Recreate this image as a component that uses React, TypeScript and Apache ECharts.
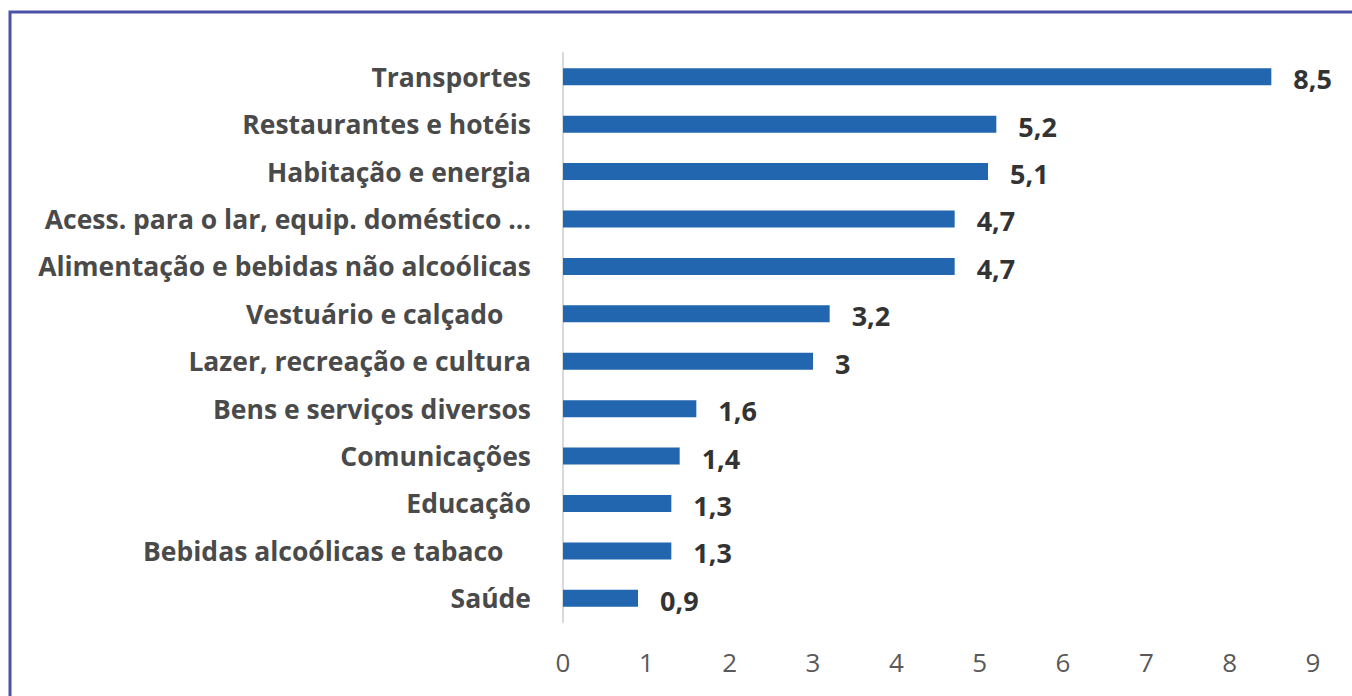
import React, { useEffect, useRef } from "react";
import * as echarts from "echarts";

const categories = [
  "Transportes",
  "Restaurantes e hotéis",
  "Habitação e energia",
  "Acess. para o lar, equip. doméstico ...",
  "Alimentação e bebidas não alcoólicas",
  "Vestuário e calçado    ",
  "Lazer, recreação e cultura",
  "Bens e serviços diversos",
  "Comunicações",
  "Educação",
  "Bebidas alcoólicas e tabaco    ",
  "Saúde",
];
const values = [8.5, 5.2, 5.1, 4.7, 4.7, 3.2, 3, 1.6, 1.4, 1.3, 1.3, 0.9];

const FONT = "'Open Sans', 'Noto Sans', sans-serif";

export default function App() {
  const ref = useRef<HTMLDivElement>(null);
  useEffect(() => {
    const chart = echarts.init(ref.current!, undefined, { renderer: "svg" });
    chart.setOption({
      animation: false,
      backgroundColor: "#ffffff",
      graphic: [
        {
          type: "rect",
          shape: { x: 10, y: 12, width: 1400, height: 760 },
          style: { fill: "none", stroke: "#4b52a8", lineWidth: 3 },
          silent: true,
        },
      ],
      grid: { left: 563, right: 39, top: 53, bottom: 74 },
      xAxis: {
        type: "value",
        min: 0,
        max: 9,
        interval: 1,
        axisLine: { show: false },
        axisTick: { show: false },
        splitLine: { show: false },
        axisLabel: {
          margin: 27,
          fontFamily: FONT,
          fontSize: 26,
          color: "#595959",
        },
      },
      yAxis: {
        type: "category",
        data: categories,
        inverse: true,
        axisLine: { show: true, lineStyle: { color: "#d9d9d9", width: 2 } },
        axisTick: { show: false },
        axisLabel: {
          margin: 32,
          fontFamily: FONT,
          fontSize: 26.5,
          fontWeight: "bold",
          color: "#4a4a4a",
        },
      },
      series: [
        {
          type: "bar",
          data: values,
          barWidth: 17,
          itemStyle: { color: "#2366b0" },
          label: {
            show: true,
            position: "right",
            distance: 22,
            fontFamily: FONT,
            fontSize: 27,
            fontWeight: "bold",
            color: "#333333",
            offset: [0, 2],
            formatter: (p: any) => String(p.value).replace(".", ","),
          },
        },
      ],
    });
    return () => chart.dispose();
  }, []);
  return (
    <div
      ref={ref}
      style={{ position: "fixed", left: 0, top: 0, width: 1352, height: 696 }}
    />
  );
}
